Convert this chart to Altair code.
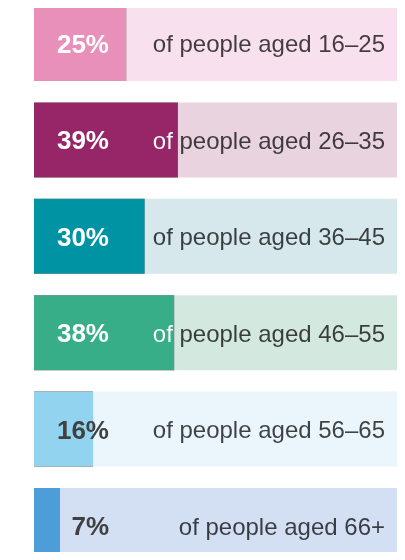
import altair as alt
import pandas as pd

ages = ["16–25", "26–35", "36–45", "46–55", "56–65", "66+"]
values = [25, 39, 30, 38, 16, 7]
labels = ["of people aged " + a for a in ages]
pct_labels = [f"{v}%" for v in values]

dark_colors = ["#E88FBA", "#962667", "#0093A3", "#38AE88", "#92D3EF", "#4D9ED8"]
light_colors = ["#F8E0EE", "#E8D3DF", "#D6E8EC", "#D3E8DE", "#EAF6FC", "#D3E0F4"]

df = pd.DataFrame({"age": ages, "value": values, "label": labels, "pct": pct_labels})

FONT = "Liberation Sans"
TEXT_GRAY = "#444444"

y_enc = alt.Y("age:N", sort=ages, axis=None,
              scale=alt.Scale(range=[-2, 555], paddingInner=0.222, paddingOuter=0))
x_scale = alt.Scale(domain=[0, 100], range=[26, 395])

base = alt.Chart(df).encode(y=y_enc)

# opaque white backdrop for blending
backdrop = base.mark_bar(color="white").encode(
    x=alt.X("zero:Q", scale=x_scale, axis=None), x2=alt.datum(100)
).transform_calculate(zero="0")

# label text in black (recoloured per region via blending below)
label_txt = base.mark_text(align="right", baseline="alphabetic", dy=9,
                           font=FONT, fontSize=24, color="black").encode(
    x=alt.value(377), text="label:N"
)

# filled portion: invert, then screen with bar colour -> white text on the bar
bar_invert = base.mark_bar(color="white", blend="difference").encode(
    x=alt.X("zero:Q", scale=x_scale, axis=None), x2="value:Q"
).transform_calculate(zero="0")
bar_fill = base.mark_bar(blend="screen").encode(
    x=alt.X("zero:Q", scale=x_scale, axis=None), x2="value:Q",
    color=alt.Color("age:N", scale=alt.Scale(domain=ages, range=dark_colors), legend=None)
).transform_calculate(zero="0")

# remaining portion: grey text on light background
rest_gray = base.mark_bar(color=TEXT_GRAY, blend="screen").encode(
    x=alt.X("value:Q", scale=x_scale, axis=None), x2=alt.datum(100)
)
rest_fill = base.mark_bar(blend="multiply").encode(
    x=alt.X("value:Q", scale=x_scale, axis=None), x2=alt.datum(100),
    fill=alt.Fill("age:N", scale=alt.Scale(domain=ages, range=light_colors), legend=None)
)

pct_txt = base.mark_text(align="right", baseline="alphabetic", dy=9.5,
                         font=FONT, fontSize=26, fontWeight="bold").encode(
    x=alt.value(101), text="pct:N",
    color=alt.when(alt.datum.value >= 20).then(alt.value("white")).otherwise(alt.value("#404040"))
)

chart = alt.layer(
    backdrop, label_txt, bar_invert, bar_fill, rest_gray, rest_fill, pct_txt
).properties(
    width=389, height=544,
    autosize=alt.AutoSizeParams(type="none"), padding=0, background="white"
).configure_view(stroke=None)

chart.save("out.html", embed_options={"renderer": "svg", "actions": False})
